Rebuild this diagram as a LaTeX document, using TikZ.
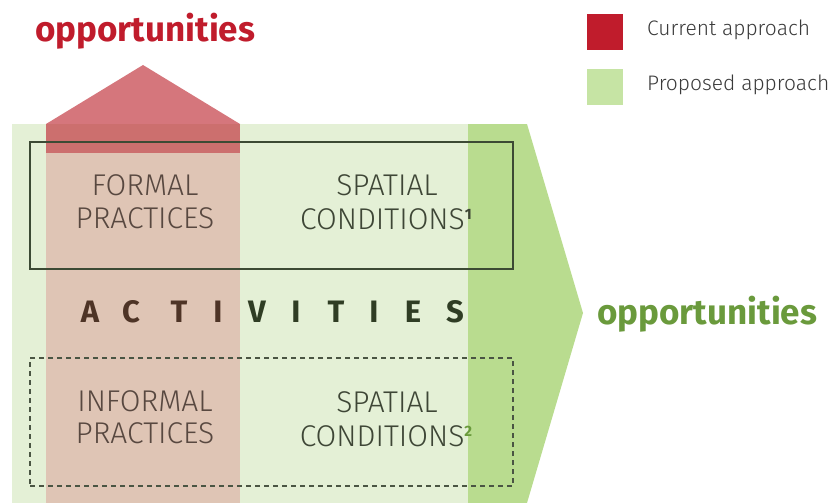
\documentclass[tikz,border=0pt]{standalone}
\usepackage{fontspec}
\setmainfont{Fira Sans}[UprightFont={* Light}, BoldFont={* Bold}]
\definecolor{lgreen}{HTML}{E4F0D6}
\definecolor{dgreen}{HTML}{B9DC8F}
\definecolor{colred}{HTML}{DFC5B5}
\definecolor{arrowred}{HTML}{D5767C}
\definecolor{bandred}{HTML}{CC6F6E}
\definecolor{legred}{HTML}{C01C2C}
\definecolor{leggreen}{HTML}{C6E4A4}
\definecolor{txtred}{HTML}{C01C2C}
\definecolor{txtgreen}{HTML}{6A9A3C}
\definecolor{brownt}{HTML}{584840}
\definecolor{greent}{HTML}{3E4636}
\definecolor{actbrown}{HTML}{4E3426}
\definecolor{actgreen}{HTML}{2F3D24}
\definecolor{framec}{HTML}{3C4A34}
\definecolor{legtext}{HTML}{3A3A3A}
\tikzset{
  boxtext/.style={anchor=base, inner sep=0pt, font=\fontsize{30}{30}\selectfont},
  acttext/.style={anchor=base, inner sep=0pt, font=\fontsize{31}{31}\selectfont\bfseries},
  opptext/.style={anchor=base west, inner sep=0pt, font=\fontsize{35}{35}\selectfont\bfseries},
  legsq/.style={minimum size=36pt, inner sep=0pt, draw=none},
  legtxt/.style={anchor=base west, inner sep=0pt, text=legtext, font=\fontsize{21}{21}\selectfont},
  frame/.style={draw=framec, line width=1.3pt, minimum width=483pt, inner sep=0pt},
}
\newcommand{\supone}[2]{\raisebox{9.5pt}{\textcolor{#1}{\fontsize{15}{15}\selectfont\bfseries #2}}}
\begin{document}
\begin{tikzpicture}[x=1pt,y=-1pt]
\useasboundingbox (0,0) rectangle (828,503);
% backgrounds
\fill[lgreen] (12,124) rectangle (468,503);
\fill[dgreen] (468,124) -- (527,124) -- (583,313) -- (527,503) -- (468,503) -- cycle;
\fill[colred] (46,153) rectangle (240,503);
\fill[arrowred] (46,124) -- (143,65) -- (240,124) -- cycle;
\fill[bandred] (46,124) rectangle (240,153);
% frames
\node[frame, minimum height=127pt] (formalbox) at (271.5,205.5) {};
\node[frame, dashed, dash pattern=on 5pt off 4pt, draw=framec!80!gray, minimum height=128pt] (informalbox) at (271.5,422) {};
% upper texts
\node[boxtext, text=brownt] (formal) at (145,195) {FORMAL};
\node[boxtext, text=brownt] (practa) at (145,228) {PRACTICES};
\node[boxtext, text=greent] (spata) at (387,195) {SPATIAL};
\node[boxtext, text=greent] (conda) at (386,229) {CONDITIONS\supone{greent}{1}};
% lower texts
\node[boxtext, text=brownt] (informal) at (145,411) {INFORMAL};
\node[boxtext, text=brownt] (practb) at (145,443) {PRACTICES};
\node[boxtext, text=greent] (spatb) at (387,412) {SPATIAL};
\node[boxtext, text=greent] (condb) at (386,446) {CONDITIONS\supone{txtgreen}{2}};
% activities
\node[acttext, text=actbrown] (a1) at (90,322) {A};
\node[acttext, text=actbrown] (a2) at (131,322) {C};
\node[acttext, text=actbrown] (a3) at (179,322) {T};
\node[acttext, text=actbrown] (a4) at (218,322) {I};
\node[acttext, text=actgreen] (a5) at (257,322) {V};
\node[acttext, text=actgreen] (a6) at (296,322) {I};
\node[acttext, text=actgreen] (a7) at (336,322) {T};
\node[acttext, text=actgreen] (a8) at (374,322) {I};
\node[acttext, text=actgreen] (a9) at (413,322) {E};
\node[acttext, text=actgreen] (a10) at (455,322) {S};
% opportunities
\node[opptext, text=txtred] (opptop) at (35,42) {opportunities};
\node[opptext, text=txtgreen] (oppright) at (597,324) {opportunities};
% legend
\node[legsq, fill=legred] (cursq) at (604.5,32) {};
\node[legsq, fill=leggreen] (propsq) at (604.5,87) {};
\node[legtxt] (curtxt) at (647,36) {Current approach};
\node[legtxt] (proptxt) at (647,91) {Proposed approach};
\end{tikzpicture}
\end{document}
